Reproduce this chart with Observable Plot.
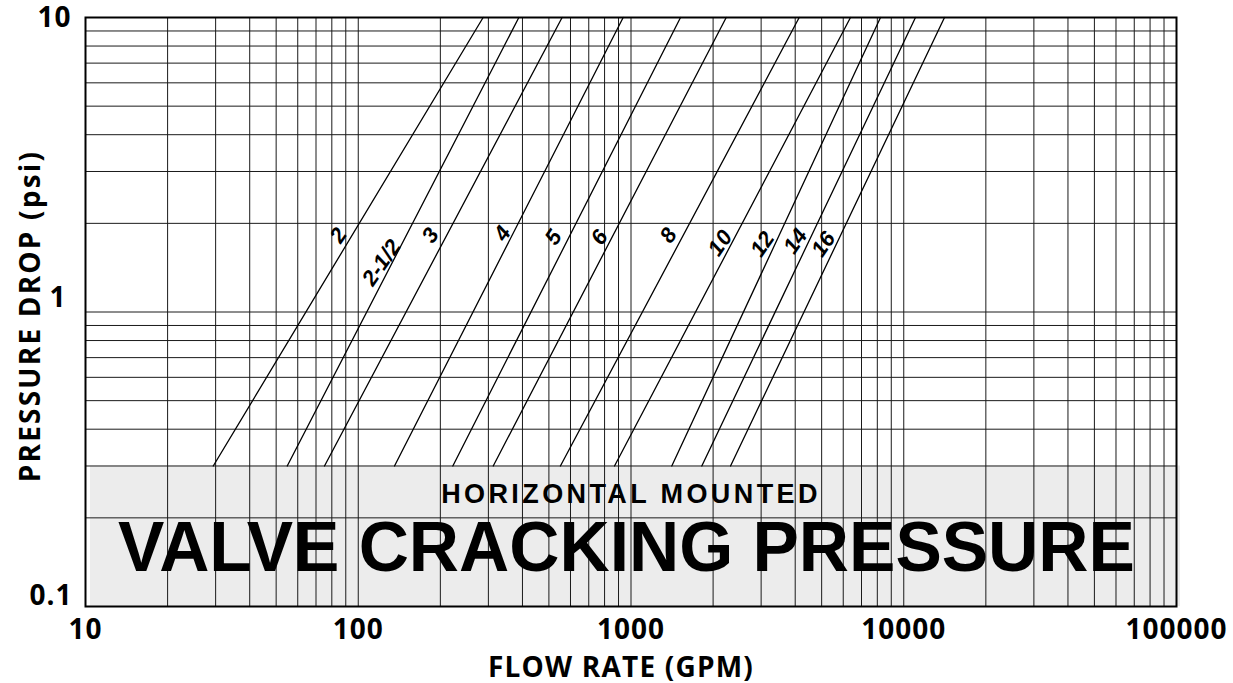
<!DOCTYPE html>
<html>
<head>
<meta charset="utf-8">
<script src="https://cdn.jsdelivr.net/npm/d3@7"></script>
<script src="https://cdn.jsdelivr.net/npm/@observablehq/plot@0.6"></script>
<style>
  html, body { margin: 0; padding: 0; background: #fff; }
</style>
</head>
<body>
<div id="chart"></div>
<script>
// Valve sizes (inches)
const sizes = ["2", "2-1/2", "3", "4", "5", "6", "8", "10", "12", "14", "16"];
// Flow (GPM) where each curve starts at the cracking pressure
const flowAtCracking = [29.4, 54.9, 75.2, 135.8, 222.2, 312.5, 551, 870, 1411, 1818, 2317];
// Flow (GPM) where each curve reaches 10 psi
const flowAtTop = [287, 388, 559, 936, 1519, 2234, 4137, 6379, 8218, 11040, 14105];
// Label anchor positions (flow, pressure) for each size label
const labelFlow = [84.6, 121.7, 184, 338, 520, 766, 1373, 2128, 3035, 4010, 5078];
const labelPressure = [1.82, 1.47, 1.82, 1.85, 1.79, 1.79, 1.82, 1.72, 1.70, 1.74, 1.70];
// Pressures
const crackingPressure = 0.3;
const topPressure = 10;
// Grey cracking-pressure band extent (flow)
const bandFlow = [10.43, 103400];
// Grid
const gridX = [];
for (const d of [10, 100, 1000, 10000]) for (let k = 1; k <= 9; k++) gridX.push(d * k);
gridX.push(100000);
const gridY = [];
for (const d of [0.1, 1]) for (let k = 1; k <= 9; k++) gridY.push(+(d * k).toFixed(2));
gridY.push(10);
// Tick labels
const xTicks = [10, 100, 1000, 10000, 100000];
const yTickTop = [10];
const yTickMid = [1];
const yTickBottom = [0.1];
const bandTitle = "HORIZONTAL MOUNTED";
const bandText = "VALVE CRACKING PRESSURE";
const xTitle = "FLOW RATE (GPM)";
const yTitle = "PRESSURE DROP (psi)";

const curves = [];
sizes.forEach((s, i) => {
  curves.push({size: s, flow: flowAtCracking[i], pressure: crackingPressure});
  curves.push({size: s, flow: flowAtTop[i], pressure: topPressure});
});
const labels = sizes.map((s, i) => ({size: s, flow: labelFlow[i], pressure: labelPressure[i]}));

const axisFont = "'Open Sans', 'Noto Sans', sans-serif";
const helv = "'Liberation Sans', Arial, sans-serif";

const chart = Plot.plot({
  width: 1233,
  height: 683,
  marginLeft: 85,
  marginRight: 57,
  marginTop: 17,
  marginBottom: 77,
  x: {type: "log", domain: [10, 100000], axis: null},
  y: {type: "log", domain: [0.1, 10], axis: null},
  style: {fontFamily: helv, background: "#fff"},
  marks: [
    Plot.rect([0], {x1: bandFlow[0], x2: bandFlow[1], y1: 0.1, y2: crackingPressure, fill: "#ececec"}),
    Plot.ruleX(gridX, {stroke: "#1a1a1a", strokeWidth: 1}),
    Plot.ruleY(gridY, {stroke: "#1a1a1a", strokeWidth: 1}),
    Plot.line(curves, {x: "flow", y: "pressure", z: "size", stroke: "#000", strokeWidth: 1.3}),
    Plot.text(labels, {x: "flow", y: "pressure", text: "size", rotate: -55,
      fontSize: 22, fontStyle: "italic", fontWeight: "bold", fill: "#000", textAnchor: "middle"}),
    Plot.text([bandTitle], {x: [1000], y: [0.2395], text: d => d,
      fontSize: 27, fontWeight: "bold", fill: "#000", textAnchor: "middle", fontFamily: helv}),
    Plot.text([bandText], {x: [962], y: [0.157], text: d => d,
      fontSize: 69.5, fontWeight: "bold", fill: "#000", textAnchor: "middle", fontFamily: helv}),
    Plot.frame({stroke: "#000", strokeWidth: 2}),
    Plot.text(xTicks, {x: d => d, frameAnchor: "bottom", dy: 32, text: d => String(d),
      fontSize: 28, fontWeight: "bold", fontFamily: axisFont, fill: "#000"}),
    Plot.text(yTickTop, {x: 10, y: d => d, text: d => String(d), dx: -14, dy: 1, textAnchor: "end",
      fontSize: 28, fontWeight: "bold", fontFamily: axisFont, fill: "#000"}),
    Plot.text(yTickMid, {x: 10, y: d => d, text: d => String(d), dx: -20, dy: -14, textAnchor: "end",
      fontSize: 28, fontWeight: "bold", fontFamily: axisFont, fill: "#000"}),
    Plot.text(yTickBottom, {x: 10, y: d => d, text: d => String(d), dx: -13, dy: -10, textAnchor: "end",
      fontSize: 28, fontWeight: "bold", fontFamily: axisFont, fill: "#000"}),
    Plot.text([xTitle], {frameAnchor: "bottom", dx: -10, dy: 70, text: d => d,
      fontSize: 28, fontWeight: "bold", fontFamily: axisFont, fill: "#000"}),
    Plot.text([yTitle], {frameAnchor: "left", textAnchor: "middle", lineAnchor: "middle",
      dx: -54, dy: 4, rotate: -90, text: d => d,
      fontSize: 28, fontWeight: "bold", fontFamily: axisFont, fill: "#000"})
  ]
});

// letter spacing tweaks to match the reference typography
d3.select(chart).selectAll("text").each(function () {
  const t = this.textContent;
  if (t === bandTitle) this.setAttribute("letter-spacing", "3.4");
  else if (t === yTitle) this.setAttribute("letter-spacing", "2.2");
  else if (t === xTitle) this.setAttribute("letter-spacing", "1.2");
  else if (xTicks.map(String).includes(t) || t === "0.1") this.setAttribute("letter-spacing", "1");
});
document.getElementById("chart").appendChild(chart);
</script>
</body>
</html>
